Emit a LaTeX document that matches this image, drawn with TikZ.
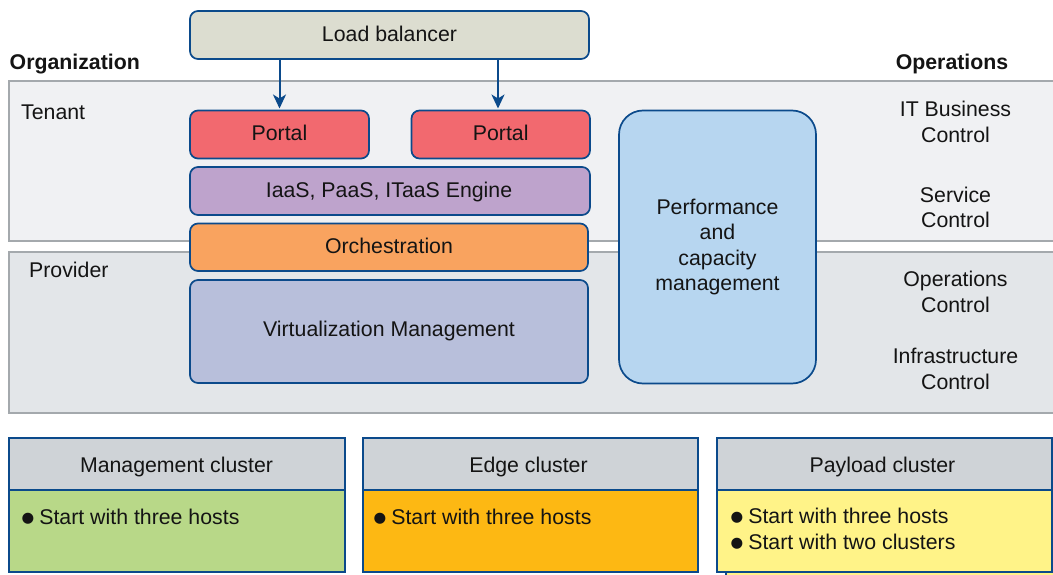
\documentclass[tikz,border=0pt]{standalone}
\usepackage{fontspec}
\setmainfont{Liberation Sans}
\usetikzlibrary{arrows.meta,calc}
\definecolor{navy}{HTML}{0B4A8B}
\definecolor{bandedge}{HTML}{A4A9AD}
\definecolor{tenantfill}{HTML}{F0F1F3}
\definecolor{providerfill}{HTML}{E3E6E9}
\definecolor{loadfill}{HTML}{DCDDD0}
\definecolor{portalfill}{HTML}{F2696F}
\definecolor{iaasfill}{HTML}{BEA3CC}
\definecolor{orchfill}{HTML}{F9A35F}
\definecolor{virtfill}{HTML}{B8BFDB}
\definecolor{perffill}{HTML}{B7D6F0}
\definecolor{headfill}{HTML}{CFD3D7}
\definecolor{mgmtfill}{HTML}{B8D888}
\definecolor{edgefill}{HTML}{FDB813}
\definecolor{payfill}{HTML}{FFF388}
\tikzset{
  x=1pt,y=-1pt,
  txt/.style={font=\fontsize{21.3}{25.5}\selectfont,text=black!92,inner sep=0pt,align=center},
  band/.style={draw=bandedge,line width=2.2pt},
  rbox/.style={draw=navy,line width=1.7pt,rounded corners=8pt},
  cbox/.style={draw=navy,line width=1.5pt},
  flow/.style={draw=navy,line width=2pt,-{Stealth[length=14pt,width=13pt,inset=4pt]}},
}
\newcommand{\boxat}[6]{% name, style, x0,y0,x1,y1
  \path[#2] (#3,#4) rectangle (#5,#6);
  \coordinate (#1) at ({(#3+#5)/2},{(#4+#6)/2});
  \coordinate (#1 top) at ({(#3+#5)/2},#4);
  \coordinate (#1 bot) at ({(#3+#5)/2},#6);
}
\begin{document}
\begin{tikzpicture}
\useasboundingbox (0,0) rectangle (1053,575);
\path[fill=white] (0,0) rectangle (1053,575);
% bands
\path[band,fill=tenantfill] (9,81) rectangle (1060,241);
\path[band,fill=providerfill] (9,252.2) rectangle (1060,412.6);
\node[txt,font=\fontsize{21.3}{25.5}\selectfont\bfseries,anchor=base west] (org) at (9.5,69.5) {Organization};
\node[txt,font=\fontsize{21.3}{25.5}\selectfont\bfseries,anchor=base] (ops) at (952,69.5) {Operations};
\node[txt,anchor=base west] (tenant) at (21,119.5) {Tenant};
\node[txt,anchor=base west] (provider) at (29,277) {Provider};
% stacked boxes
\boxat{load}{rbox,fill=loadfill}{190}{11}{589}{59}
\boxat{portalA}{rbox,fill=portalfill}{190}{110.5}{369}{158.5}
\boxat{portalB}{rbox,fill=portalfill}{411.5}{110.5}{590}{158.5}
\boxat{iaas}{rbox,fill=iaasfill}{190}{167}{590}{215}
\boxat{orch}{rbox,fill=orchfill}{190}{223.5}{588}{271}
\boxat{virt}{rbox,fill=virtfill}{190}{280}{588}{383}
\path[rbox,rounded corners=24pt,fill=perffill] (619,110.5) rectangle (816,383.5);
\coordinate (perf) at (717.5,247.2);
\node[txt] (tload) at ($(load)+(0,-1)$) {Load balancer};
\node[txt] (tportalA) at ($(portalA)+(0,-1.5)$) {Portal};
\node[txt] (tportalB) at ($(portalB)+(0,-1.5)$) {Portal};
\node[txt] (tiaas) at ($(iaas)+(-1,1)$) {IaaS, PaaS, ITaaS Engine};
\node[txt] (torch) at ($(orch)+(0,-1.5)$) {Orchestration};
\node[txt] (tvirt) at ($(virt)+(0,-0.5)$) {Virtualization Management};
\node[txt] (tperf) at (perf) {Performance\\and\\capacity\\management};
% connectors
\coordinate (ra) at (279.5,0);
\coordinate (rb) at (498,0);
\draw[flow,shorten >=2pt] (load bot -| ra) -- (portalA top -| ra);
\draw[flow,shorten >=2pt] (load bot -| rb) -- (portalB top -| rb);
% operations
\node[txt] (itb) at (955.5,122) {IT Business\\Control};
\node[txt] (svc) at (955.5,207.5) {Service\\Control};
\node[txt] (opc) at (955.5,292) {Operations\\Control};
\node[txt] (inf) at (955.5,369) {Infrastructure\\Control};
% clusters
\path[fill=payfill] (726,572) rectangle (1053,575);
\draw[navy,line width=1.2pt] (726,572) -- (726,575);
\path[cbox,fill=mgmtfill] (9,490) rectangle (345,572);
\path[cbox,fill=headfill] (9,438) rectangle (345,490);
\path[cbox,fill=edgefill] (363,490) rectangle (698,572);
\path[cbox,fill=headfill] (363,438) rectangle (698,490);
\path[cbox,fill=payfill] (717,490) rectangle (1060,572);
\path[cbox,fill=headfill] (717,438) rectangle (1060,490);
\draw[navy,line width=1.5pt] (1052,438) -- (1052,572);
\node[txt] (hm) at (176.5,466.5) {Management cluster};
\node[txt] (he) at (528.5,466.5) {Edge cluster};
\node[txt] (hp) at (882.5,466.5) {Payload cluster};
\newcommand{\blt}{\raisebox{1.6pt}{\fontspec{DejaVu Sans}\fontsize{14.5}{14.5}\selectfont●}}
\node[txt,anchor=base west] (bm) at (21.5,524) {\blt\hspace{5pt}Start with three hosts};
\node[txt,anchor=base west] (be) at (373.5,524) {\blt\hspace{5pt}Start with three hosts};
\node[txt,anchor=base west] (bp1) at (730.5,523.5) {\blt\hspace{5pt}Start with three hosts};
\node[txt,anchor=base west] (bp2) at (730.5,549) {\blt\hspace{5pt}Start with two clusters};
\end{tikzpicture}
\end{document}
